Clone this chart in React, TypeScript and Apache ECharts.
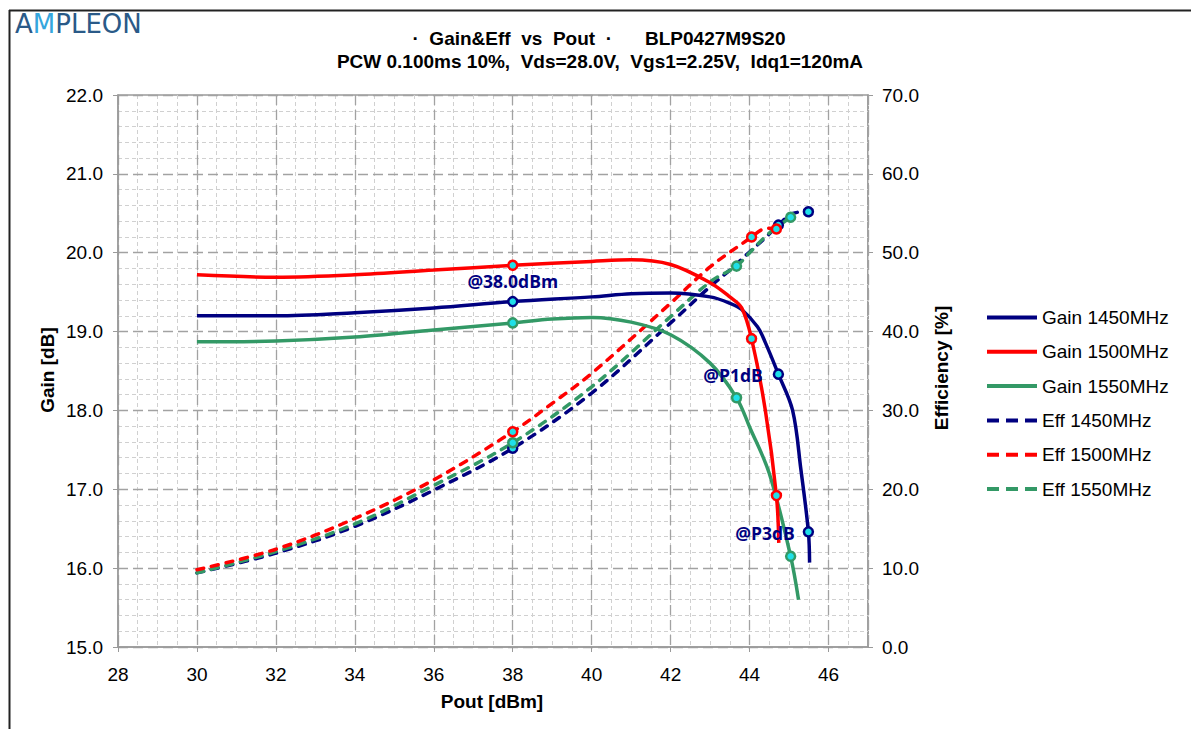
import React, { useEffect, useRef } from "react";
import * as echarts from "echarts";

// ---- data ----
const poutGain1450 = [30, 32, 34, 36, 38, 40, 41, 42, 43, 43.5, 43.8, 44.2, 44.4, 44.73, 45.09, 45.3, 45.49, 45.52];
const gain1450 = [19.2, 19.2, 19.24, 19.3, 19.38, 19.44, 19.48, 19.49, 19.44, 19.36, 19.28, 19.06, 18.86, 18.46, 18.0, 17.25, 16.46, 16.07];

const poutGain1500 = [30, 32, 34, 36, 38, 40, 41, 42, 43, 43.5, 43.8, 44.05, 44.4, 44.68, 44.74];
const gain1500 = [19.72, 19.69, 19.72, 19.78, 19.84, 19.89, 19.91, 19.85, 19.62, 19.44, 19.3, 18.91, 18.0, 16.92, 16.32];

const poutGain1550 = [30, 32, 34, 36, 38, 39, 40, 41, 42, 43, 43.67, 44, 44.5, 45.04, 45.24];
const gain1550 = [18.87, 18.88, 18.93, 19.02, 19.11, 19.16, 19.18, 19.12, 18.96, 18.6, 18.16, 17.79, 17.2, 16.15, 15.6];

const poutEff1450 = [30, 32, 34, 36, 38, 40, 42, 43, 43.5, 44, 44.4, 44.73, 45.1, 45.49];
const eff1450 = [9.4, 11.9, 15.3, 19.9, 25.2, 32.2, 41.1, 45.7, 47.8, 50.1, 51.9, 53.5, 55.0, 55.2];

const poutEff1500 = [30, 32, 34, 36, 38, 39, 40, 42, 43, 44.05, 44.3, 44.5, 44.68];
const eff1500 = [9.8, 12.4, 16.3, 21.2, 27.3, 30.9, 34.7, 43.6, 48.2, 52.0, 52.9, 53.1, 53.0];

const poutEff1550 = [30, 32, 34, 36, 38, 40, 42, 43, 43.67, 44, 44.5, 45.04];
const eff1550 = [9.4, 12.1, 15.6, 20.5, 25.9, 33.0, 41.9, 46.3, 48.3, 50.0, 52.5, 54.5];

// marker points: @38.0dBm, @P1dB, @P3dB
const markPout1450 = [38, 44.73, 45.49];
const markGain1450 = [19.38, 18.46, 16.46];
const markEff1450 = [25.2, 53.5, 55.2];
const markPout1500 = [38, 44.05, 44.68];
const markGain1500 = [19.84, 18.91, 16.92];
const markEff1500 = [27.3, 52.0, 53.0];
const markPout1550 = [38, 43.67, 45.04];
const markGain1550 = [19.11, 18.16, 16.15];
const markEff1550 = [25.9, 48.3, 54.5];

const seriesNames = ["Gain 1450MHz", "Gain 1500MHz", "Gain 1550MHz", "Eff 1450MHz", "Eff 1500MHz", "Eff 1550MHz"];
const annotations = [
  { text: "@38.0dBm", pout: 38.0, gain: 19.64 },
  { text: "@P1dB", pout: 43.58, gain: 18.45 },
  { text: "@P3dB", pout: 44.39, gain: 16.45 },
];

const NAVY = "#000080";
const RED = "#ff0000";
const GREEN = "#339966";
const CYAN = "#1fe0e8";
const FONT = "Arial, 'Liberation Sans', sans-serif";
const SOLID_ICON = "path://M0,0h50v4h-50z";
const DASH_ICON = "path://M0,0h12v4h-12z M19,0h12v4h-12z M38,0h12v4h-12z";

export default function App() {
  const ref = useRef<HTMLDivElement>(null);
  useEffect(() => {
    const chart = echarts.init(ref.current!, null, { renderer: "svg" });
    const zip = (xs: number[], ys: number[]) => xs.map((x, i) => [x, ys[i]]);

    const lineSeries = (name: string, xs: number[], ys: number[], color: string, yIdx: number, dashed: boolean) => ({
      name,
      type: "line",
      xAxisIndex: 0,
      yAxisIndex: yIdx,
      data: zip(xs, ys),
      smooth: 0.35,
      symbol: "none",
      showSymbol: false,
      z: 3,
      lineStyle: { color, width: 3.5, type: dashed ? [7, 8] : "solid", cap: dashed ? "round" : "butt" },
      itemStyle: { color },
    });
    const markSeries = (name: string, xs: number[], ys: number[], color: string, yIdx: number) => ({
      name,
      type: "scatter",
      xAxisIndex: 0,
      yAxisIndex: yIdx,
      data: zip(xs, ys),
      symbol: "circle",
      symbolSize: 9,
      z: 5,
      itemStyle: { color: CYAN, borderColor: color, borderWidth: 2.5, opacity: 1 },
    });

    const gridLeft = 118, gridTop = 95, gridW = 750, gridH = 552;

    const option: any = {
      animation: false,
      backgroundColor: "#ffffff",
      grid: {
        left: gridLeft, top: gridTop, width: gridW, height: gridH,
        show: true, borderColor: "#9a9a9a", borderWidth: 1.5, backgroundColor: "transparent",
      },
      legend: {
        data: seriesNames.map((n) => ({ name: n, icon: n.startsWith("Eff") ? DASH_ICON : SOLID_ICON })),
        orient: "vertical",
        left: 987,
        top: 308,
        padding: 0,
        itemWidth: 50,
        itemHeight: 4,
        itemGap: 15.3,
        textStyle: { fontSize: 19, fontFamily: FONT, color: "#000", padding: [0, 0, 0, 0] },
      },
      xAxis: [
        {
          type: "value", min: 28, max: 47, interval: 2, position: "bottom",
          axisLine: { show: true, lineStyle: { color: "#9a9a9a", width: 1.5 } },
          axisTick: { show: true, length: 5, lineStyle: { color: "#9a9a9a" } },
          axisLabel: { showMaxLabel: false, color: "#000", fontSize: 19, fontFamily: FONT, margin: 18 },
          splitLine: { show: true, lineStyle: { color: "#a2a2a2", width: 1.3, type: [10, 5] } },
          z: 2,
        },
        {
          type: "value", min: 28, max: 47, interval: 0.5, position: "bottom",
          axisLine: { show: false }, axisTick: { show: false }, axisLabel: { show: false },
          splitLine: { show: true, lineStyle: { color: "#d0d0d0", width: 1, type: [4, 3] } },
          z: 1,
        },
      ],
      yAxis: [
        {
          type: "value", min: 15, max: 22, interval: 1, position: "left",
          axisLine: { show: true, lineStyle: { color: "#9a9a9a", width: 1.5 } },
          axisTick: { show: true, length: 5, lineStyle: { color: "#9a9a9a" } },
          axisLabel: { color: "#000", fontSize: 19, fontFamily: FONT, margin: 15, formatter: (v: number) => v.toFixed(1) },
          splitLine: { show: true, lineStyle: { color: "#a2a2a2", width: 1.3, type: [10, 5] } },
          minorTick: { show: false, splitNumber: 5 },
          minorSplitLine: { show: true, lineStyle: { color: "#d0d0d0", width: 1, type: [4, 3] } },
          z: 2,
        },
        {
          type: "value", min: 0, max: 70, interval: 10, position: "right",
          axisLine: { show: true, lineStyle: { color: "#9a9a9a", width: 1.5 } },
          axisTick: { show: true, length: 5, lineStyle: { color: "#9a9a9a" } },
          axisLabel: { color: "#000", fontSize: 19, fontFamily: FONT, margin: 14, formatter: (v: number) => v.toFixed(1) },
          splitLine: { show: false },
        },
      ],
      series: [
        lineSeries(seriesNames[3], poutEff1450, eff1450, NAVY, 1, true),
        lineSeries(seriesNames[5], poutEff1550, eff1550, GREEN, 1, true),
        lineSeries(seriesNames[4], poutEff1500, eff1500, RED, 1, true),
        lineSeries(seriesNames[2], poutGain1550, gain1550, GREEN, 0, false),
        lineSeries(seriesNames[0], poutGain1450, gain1450, NAVY, 0, false),
        lineSeries(seriesNames[1], poutGain1500, gain1500, RED, 0, false),
        markSeries("m-g1450", markPout1450, markGain1450, NAVY, 0),
        markSeries("m-g1500", markPout1500, markGain1500, RED, 0),
        markSeries("m-g1550", markPout1550, markGain1550, GREEN, 0),
        markSeries("m-e1450", markPout1450, markEff1450, NAVY, 1),
        markSeries("m-e1550", markPout1550, markEff1550, GREEN, 1),
        markSeries("m-e1500", markPout1500, markEff1500, RED, 1),
      ],
    };
    chart.setOption(option);

    const annoGraphics = annotations.map((a) => {
      const p = chart.convertToPixel({ seriesIndex: 4 }, [a.pout, a.gain]) as number[];
      return {
        type: "text", x: p[0], y: p[1], z: 10,
        style: {
          text: a.text, align: "center", verticalAlign: "middle",
          font: "bold 17.5px 'Open Sans', 'Noto Sans', sans-serif", fill: NAVY,
        },
      };
    });

    const bold = (size: number) => `bold ${size}px ${FONT}`;

    chart.setOption({
      graphic: [
        { type: "line", shape: { x1: 9, y1: 10.5, x2: 1191, y2: 10.5 }, style: { stroke: "#222", lineWidth: 2 } },
        { type: "line", shape: { x1: 9.5, y1: 10, x2: 9.5, y2: 729 }, style: { stroke: "#222", lineWidth: 2 } },
        {
          type: "text", x: 15, y: 24,
          style: {
            text: "{a|A}{m|M}{a|PLEON}", verticalAlign: "middle",
            rich: {
              a: { fontSize: 26, fontFamily: "'DejaVu Sans', sans-serif", fill: "#2a5a88", fontWeight: "normal" },
              m: { fontSize: 26, fontFamily: "'DejaVu Sans', sans-serif", fill: "#35a6dd", fontWeight: "normal" },
            },
          },
        },
        {
          type: "text", x: 612, y: 38,
          style: { text: "·  Gain&Eff  vs  Pout  ·", align: "right", verticalAlign: "middle", font: bold(19), fill: "#000" },
        },
        {
          type: "text", x: 645, y: 38,
          style: { text: "BLP0427M9S20", align: "left", verticalAlign: "middle", font: bold(19), fill: "#000" },
        },
        {
          type: "text", x: 600, y: 61,
          style: { text: "PCW 0.100ms 10%,  Vds=28.0V,  Vgs1=2.25V,  Idq1=120mA", align: "center", verticalAlign: "middle", font: bold(19), fill: "#000" },
        },
        {
          type: "text", x: 47, y: 370, rotation: Math.PI / 2,
          style: { text: "Gain [dB]", align: "center", verticalAlign: "middle", font: bold(19), fill: "#000" },
        },
        {
          type: "text", x: 941, y: 368, rotation: Math.PI / 2,
          style: { text: "Efficiency [%]", align: "center", verticalAlign: "middle", font: bold(19), fill: "#000" },
        },
        {
          type: "text", x: 492, y: 701,
          style: { text: "Pout [dBm]", align: "center", verticalAlign: "middle", font: bold(19), fill: "#000" },
        },
        ...annoGraphics,
      ],
    });

    return () => chart.dispose();
  }, []);
  return (
    <div
      ref={ref}
      style={{ position: "fixed", left: 0, top: 0, width: 1191, height: 729, background: "#fff" }}
    />
  );
}
